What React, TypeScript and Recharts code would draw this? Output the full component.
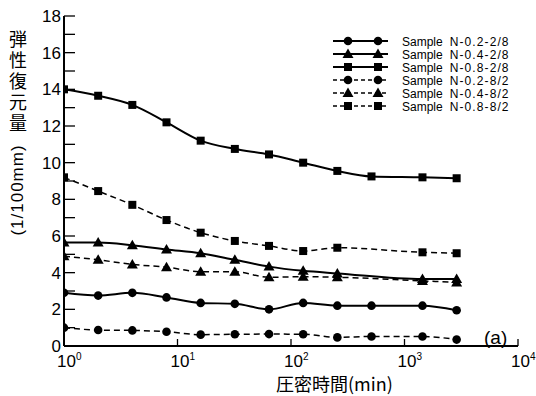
import React from 'react';
import { LineChart, Line, XAxis, YAxis, Legend } from 'recharts';

// consolidation time (min) and elastic recovery (1/100 mm)
const minutes = [1, 2, 4, 8, 16, 32, 64, 128, 256, 512, 1440, 2880];
const n02_28 = [2.9, 2.75, 2.9, 2.65, 2.35, 2.3, 2.0, 2.35, 2.2, 2.2, 2.2, 1.95];
const n04_28 = [5.65, 5.65, 5.5, 5.27, 5.06, 4.7, 4.33, 4.1, 3.96, null, 3.65, 3.65];
const n08_28 = [14.0, 13.65, 13.15, 12.2, 11.2, 10.75, 10.45, 10.0, 9.55, 9.25, 9.2, 9.15];
const n02_82 = [1.0, 0.87, 0.85, 0.78, 0.62, 0.64, 0.65, 0.64, 0.47, 0.52, 0.52, 0.35];
const n04_82 = [4.9, 4.7, 4.45, 4.3, 4.05, 4.05, 3.75, 3.78, 3.75, null, 3.55, 3.47];
const n08_82 = [9.2, 8.45, 7.7, 6.87, 6.18, 5.73, 5.46, 5.18, 5.36, null, 5.11, 5.06];

const xTicks = [1, 10, 100, 1000, 10000];
const yTicks = [0, 1, 2, 3, 4, 5, 6, 7, 8, 9, 10, 11, 12, 13, 14, 15, 16, 17, 18];

const series = [
  { key: 'n02_28', name: 'Sample N-0.2-2/8', values: n02_28, shape: 'circle', dashed: false },
  { key: 'n04_28', name: 'Sample N-0.4-2/8', values: n04_28, shape: 'triangle', dashed: false },
  { key: 'n08_28', name: 'Sample N-0.8-2/8', values: n08_28, shape: 'square', dashed: false },
  { key: 'n02_82', name: 'Sample N-0.2-8/2', values: n02_82, shape: 'circle', dashed: true },
  { key: 'n04_82', name: 'Sample N-0.4-8/2', values: n04_82, shape: 'triangle', dashed: true },
  { key: 'n08_82', name: 'Sample N-0.8-8/2', values: n08_82, shape: 'square', dashed: true },
];

const data = minutes.map((t, i) => {
  const row: Record<string, number | null> = { t };
  series.forEach((s) => (row[s.key] = s.values[i]));
  return row;
});

const LEFT = 64;
const BOTTOM = 346;
const NUM_FONT = '"Liberation Sans", Arial, sans-serif';
const CJK_FONT = '"Noto Sans CJK JP", sans-serif';

function marker(shape: string, cx: number, cy: number, key?: string) {
  if (shape === 'circle') return <circle key={key} cx={cx} cy={cy} r={4.3} fill="#000" />;
  if (shape === 'triangle')
    return <polygon key={key} points={`${cx},${cy - 5.5} ${cx - 5.5},${cy + 4} ${cx + 5.5},${cy + 4}`} fill="#000" />;
  return <rect key={key} x={cx - 4} y={cy - 4} width={8} height={8} fill="#000" />;
}

const makeDot = (shape: string) => (props: any) => {
  const { cx, cy, index, value } = props;
  if (cx == null || cy == null || value == null) return <g key={`e-${index}`} />;
  return marker(shape, cx, cy, `d-${index}`);
};

const YTick = (props: any) => {
  const y = props.payload.coordinate;
  const v = props.payload.value;
  return (
    <g>
      <line x1={LEFT} x2={LEFT + 11} y1={y} y2={y} stroke="#000" strokeWidth={1.3} />
      {v % 2 === 0 && (
        <text x={LEFT - 3} y={y + 6} textAnchor="end" fontSize={17} fontFamily={NUM_FONT} fill="#000">
          {v}
        </text>
      )}
    </g>
  );
};

const XTick = (props: any) => {
  const x = props.payload.coordinate;
  const exp = Math.round(Math.log10(props.payload.value));
  return (
    <g>
      {exp > 0 && <line x1={x} x2={x} y1={BOTTOM} y2={BOTTOM - 7} stroke="#000" strokeWidth={1.3} />}
      <text x={x - 7} y={BOTTOM + 21} textAnchor="start" fontSize={17} fontFamily={NUM_FONT} fill="#000">
        10
        <tspan fontSize={10} dy={-7}>{exp}</tspan>
      </text>
    </g>
  );
};

const LegendBox = () => (
  <svg width={206} height={82}>
    {series.map((s, i) => {
      const y = 9 + i * 13;
      return (
        <g key={s.key}>
          <line x1={3} x2={58} y1={y} y2={y} stroke="#000" strokeWidth={s.dashed ? 1.3 : 1.8}
            strokeDasharray={s.dashed ? '4 3' : undefined} />
          {marker(s.shape, 18, y)}
          {marker(s.shape, 48, y)}
          <text x={72} y={y + 4.5} fontSize={12} fontFamily={NUM_FONT} fill="#000">
            Sample<tspan dx={7} letterSpacing={1.1}>{s.name.replace('Sample ', '')}</tspan>
          </text>
        </g>
      );
    })}
  </svg>
);

export default function App() {
  return (
    <div style={{ position: 'absolute', left: 0, top: 0, width: 536, height: 396, background: '#fff' }}>
      <LineChart width={536} height={396} data={data} margin={{ top: 16, right: 18, bottom: 0, left: 0 }}>
        <XAxis
          dataKey="t"
          type="number"
          scale="log"
          domain={[1, 10000]}
          ticks={xTicks}
          interval={0}
          height={50}
          tickLine={false}
          axisLine={{ stroke: '#000', strokeWidth: 2 }}
          tick={<XTick />}
          allowDataOverflow
        />
        <YAxis
          type="number"
          domain={[0, 18]}
          ticks={yTicks}
          interval={0}
          width={64}
          tickLine={false}
          axisLine={{ stroke: '#000', strokeWidth: 2 }}
          tick={<YTick />}
        />
        <Legend
          layout="vertical"
          verticalAlign="middle"
          align="center"
          wrapperStyle={{ position: 'absolute', left: 330, top: 32, width: 206, height: 82 }}
          content={<LegendBox />}
        />
        {series.map((s) => (
          <Line
            key={s.key}
            dataKey={s.key}
            name={s.name}
            type="monotone"
            stroke="#000"
            strokeWidth={s.dashed ? 1.5 : 2}
            strokeDasharray={s.dashed ? '6 4' : undefined}
            dot={makeDot(s.shape)}
            activeDot={false}
            connectNulls
            isAnimationActive={false}
          />
        ))}
      </LineChart>
      <div style={{ position: 'absolute', left: 9, top: 30, writingMode: 'vertical-rl', fontFamily: CJK_FONT, fontSize: 18, letterSpacing: 3, lineHeight: '18px' }}>
        弾性復元量
      </div>
      <div style={{ position: 'absolute', left: 18, top: 190, transform: 'translate(-50%, -50%) rotate(-90deg)', fontFamily: NUM_FONT, fontSize: 17, letterSpacing: 1, whiteSpace: 'nowrap', lineHeight: '18px' }}>
        (1/100mm)
      </div>
      <div style={{ position: 'absolute', left: 276, top: 375, fontFamily: CJK_FONT, fontSize: 18, lineHeight: '17px', whiteSpace: 'nowrap' }}>
        圧密時間(min)
      </div>
      <div style={{ position: 'absolute', left: 484, top: 327, fontFamily: NUM_FONT, fontSize: 19, lineHeight: '22px' }}>
        (a)
      </div>
    </div>
  );
}
